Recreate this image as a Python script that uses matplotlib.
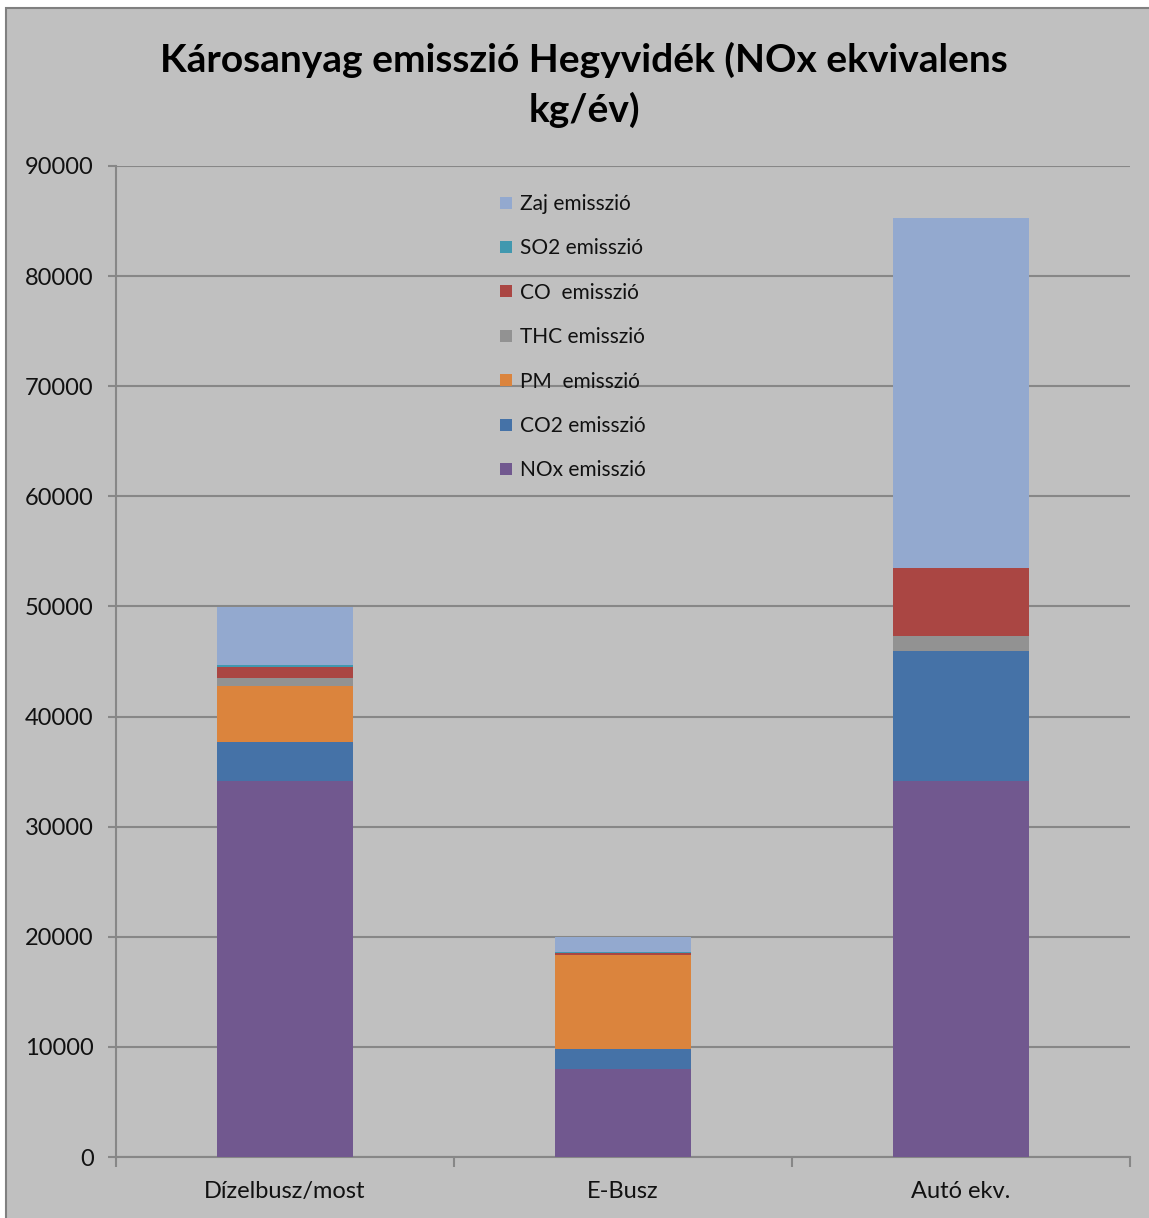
import numpy as np
import matplotlib
matplotlib.use("Agg")
import matplotlib.pyplot as plt
from matplotlib.patches import Rectangle
from matplotlib.lines import Line2D

plt.rcParams['font.family'] = ['Lato', 'DejaVu Sans']

categories = ["Dízelbusz/most", "E-Busz", "Autó ekv."]

# kg/év, NOx-equivalent
nox = [34150, 8020, 34150]
co2 = [3540, 1790, 11800]
pm = [5085, 8510, 0]
thc = [727, 0, 1390]
co = [1000, 180, 6175]
so2 = [150, 100, 0]
zaj = [5295, 1400, 31760]

series = [
    ("NOx emisszió", nox, "#71588F"),
    ("CO2 emisszió", co2, "#4572A7"),
    ("PM  emisszió", pm, "#DB843D"),
    ("THC emisszió", thc, "#929292"),
    ("CO  emisszió", co, "#AA4643"),
    ("SO2 emisszió", so2, "#4198AF"),
    ("Zaj emisszió", zaj, "#93A9CF"),
]

W, H = 1149, 1218
fig = plt.figure(figsize=(W / 100, H / 100), dpi=100)
fig.patch.set_facecolor("white")

# chart area background with border
fig.patches.append(Rectangle((6 / W, -0.01), 1.02 - 6 / W, 1 - 8 / H + 0.01,
                             transform=fig.transFigure, facecolor="#C0C0C0",
                             edgecolor="#808080", linewidth=1.5, zorder=-5))

ax = fig.add_axes([116 / W, (H - 1157) / H, (1130 - 116) / W, (1157 - 166) / H])
ax.set_facecolor("none")
ax.set_zorder(2)

x = np.arange(len(categories))
bottom = np.zeros(len(categories))
handles = []
for label, vals, color in series:
    vals = np.asarray(vals, dtype=float)
    ax.bar(x, vals, width=0.4, bottom=bottom, color=color, linewidth=0, zorder=3)
    bottom += vals
    handles.append(Line2D([], [], linestyle="none", marker="s", markersize=9,
                          markerfacecolor=color, markeredgewidth=0, label=label))

ax.set_xlim(-0.5, len(categories) - 0.5)
ax.set_ylim(0, 90000)
ax.set_yticks(np.arange(0, 90001, 10000))
ax.set_yticklabels([str(v) for v in range(0, 90001, 10000)], fontsize=17, color="#111111")
ax.yaxis.grid(True, color="#878787", linewidth=1.5, zorder=1)
ax.set_axisbelow(True)

ax.set_xticks(x)
ax.set_xticklabels(categories, fontsize=17, color="#111111")
ax.tick_params(axis="x", length=0, pad=17)
# category boundary ticks on the x axis
ax.set_xticks(np.arange(-0.5, len(categories), 1.0), minor=True)
ax.tick_params(axis="x", which="minor", length=7, color="#878787", width=1.5)
ax.tick_params(axis="y", length=6, color="#878787", width=1.5, pad=10)

for side in ("top", "right"):
    ax.spines[side].set_visible(False)
for side in ("left", "bottom"):
    ax.spines[side].set_color("#878787")
    ax.spines[side].set_linewidth(1.5)

leg = ax.legend(handles=handles[::-1], loc="upper left",
                bbox_to_anchor=(501 / W, 1 - 194 / H), bbox_transform=fig.transFigure,
                frameon=False, fontsize=15, labelspacing=1.17, handlelength=0.5,
                handletextpad=0.4, borderpad=0, borderaxespad=0)
for t in leg.get_texts():
    t.set_color("#111111")

fig.text(584 / W, 1 - 85 / H, "Károsanyag emisszió Hegyvidék (NOx ekvivalens\nkg/év)",
         ha="center", va="center", fontsize=28, fontweight="bold",
         linespacing=1.45, color="black")

fig.savefig("out.png", dpi=100)
